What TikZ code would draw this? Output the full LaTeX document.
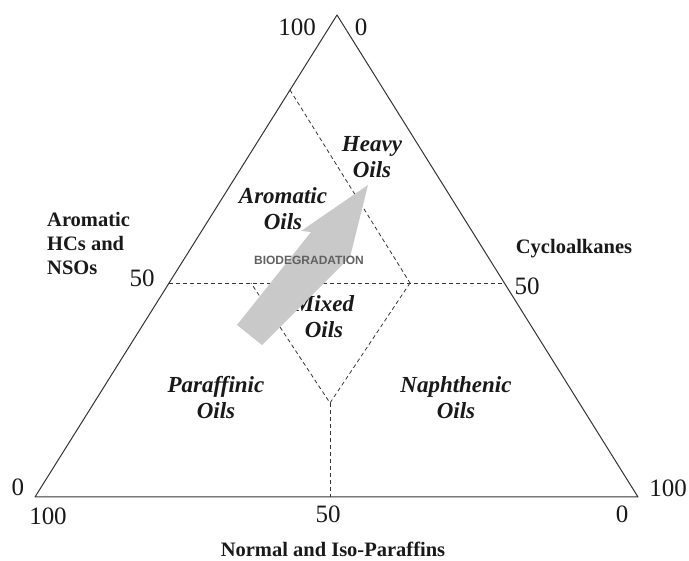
\documentclass[tikz,border=0pt]{standalone}
\usepackage{fontspec}
\setmainfont{Liberation Serif}
\newfontfamily\biofont{Liberation Sans}
\begin{document}
\begin{tikzpicture}[x=1pt,y=-1pt,
  edge/.style={line width=1pt, draw=black!80, line join=round},
  divide/.style={dash pattern=on 4pt off 3pt, line width=0.8pt, draw=black!80},
  num/.style={font=\fontsize{25}{25}\selectfont, inner sep=0pt, anchor=base, text=black!90},
  oil/.style={font=\fontsize{23}{26}\selectfont\bfseries\itshape, align=center, inner sep=0pt, anchor=base, text=black!90},
  axislab/.style={font=\fontsize{20.5}{24}\selectfont\bfseries, inner sep=0pt, anchor=base, text=black!90},
  bigarrow/.style={fill=black!21, draw=none},
  biolab/.style={font=\biofont\fontsize{12}{12}\selectfont\bfseries, text=black!62, inner sep=0pt, anchor=base}
]
\useasboundingbox (0,0) rectangle (689,561);
% vertices
\coordinate (A) at (35,497);
\coordinate (B) at (638,497);
\coordinate (C) at (337,15);
% division points
\coordinate (L50) at (169,283);
\coordinate (R50) at (504,283);
\coordinate (LH) at (290,90);
\coordinate (DR) at (410,283);
\coordinate (DL) at (251,283);
\coordinate (DB) at (330,403);
\coordinate (M50) at (330,497);
% dashed divisions
\draw[divide] (L50) -- (R50);
\draw[divide] (LH) -- (DR);
\draw[divide] (DR) -- (DB) -- (DL);
\draw[divide] (DB) -- (M50);
% triangle
\draw[edge] (A) -- (B) -- (C) -- cycle;
% scale numbers
\node[num] (n100t) at (297,36) {100};
\node[num] (n0t) at (361,36) {0};
\node[num] (n0l) at (18,496) {0};
\node[num] (n100b) at (48,525) {100};
\node[num] (n50b) at (328,523) {50};
\node[num] (n0b) at (622,522) {0};
\node[num] (n100r) at (668,497) {100};
\node[num] (n50l) at (142,287) {50};
\node[num] (n50r) at (527,295) {50};
% axis labels
\node[axislab, anchor=base west, align=left] (arom) at (47,275) {Aromatic\\HCs and\\NSOs};
\node[axislab] (cyclo) at (574,254) {Cycloalkanes};
\node[axislab] (npar) at (333,557) {Normal and Iso-Paraffins};
% region labels
\node[oil] (heavy) at (372,178) {Heavy\\Oils};
\node[oil] (aromoil) at (283,230) {Aromatic\\Oils};
\node[oil] (mixed) at (324,338) {Mixed\\Oils};
\node[oil] (paraf) at (216,419) {Paraffinic\\Oils};
\node[oil] (naph) at (456,419) {Naphthenic\\Oils};
% biodegradation arrow
\coordinate (ab1) at (237,325);
\coordinate (ab2) at (311,232);
\coordinate (ab3) at (301,231);
\coordinate (atip) at (368,185);
\coordinate (ab5) at (350,257);
\coordinate (ab6) at (262,345);
\fill[bigarrow] (ab1) -- (ab2) -- (ab3) -- (atip) -- (ab5) -- (ab6) -- cycle;
\node[biolab] (bio) at (309,265) {BIODEGRADATION};
\end{tikzpicture}
\end{document}
